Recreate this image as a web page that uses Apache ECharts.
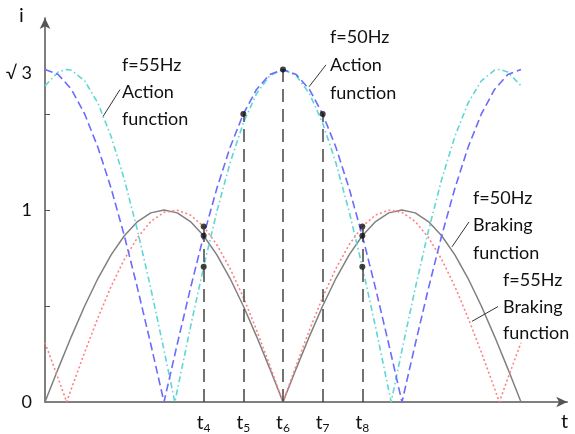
<!DOCTYPE html>
<html>
<head>
<meta charset="utf-8">
<script src="https://cdn.jsdelivr.net/npm/echarts@6/dist/echarts.min.js"></script>
<style>html,body{margin:0;padding:0;background:#fff}#c{width:575px;height:434px}</style>
</head>
<body>
<div id="c"></div>
<script>
// phase axis (degrees of the 50 Hz wave)
const theta50 = [0,10,20,30,40,50,60,70,80,90,100,110,120,130,140,150,160,170,180,190,200,210,220,230,240,250,260,270,280,290,300,310,320,330,340,350,360];
const braking50 = [0,.174,.342,.5,.643,.766,.866,.94,.985,1,.985,.94,.866,.766,.643,.5,.342,.174,0,.174,.342,.5,.643,.766,.866,.94,.985,1,.985,.94,.866,.766,.643,.5,.342,.174,0];
const action50 = [1.732,1.706,1.628,1.5,1.327,1.113,.866,.592,.301,0,.301,.592,.866,1.113,1.327,1.5,1.628,1.706,1.732,1.706,1.628,1.5,1.327,1.113,.866,.592,.301,0,.301,.592,.866,1.113,1.327,1.5,1.628,1.706,1.732];

const theta55b = [0,10,16.4,20,30,40,50,60,70,80,90,100,110,120,130,140,150,160,170,180,190,200,210,220,230,240,250,260,270,280,290,300,310,320,330,340,343.6,350,360];
const braking55 = [.309,.122,0,.070,.259,.438,.602,.743,.857,.94,.988,.999,.974,.914,.819,.695,.545,.375,.191,0,.191,.375,.545,.695,.819,.914,.974,.999,.988,.94,.857,.743,.602,.438,.259,.070,0,.122,.309];

const theta55a = [0,10,16.4,20,30,40,50,60,70,80,90,98.2,100,110,120,130,140,150,160,170,180,190,200,210,220,230,240,250,260,261.8,270,280,290,300,310,320,330,340,343.6,350,360];
const action55 = [1.647,1.719,1.732,1.728,1.673,1.557,1.383,1.159,.892,.592,.271,0,.060,.390,.704,.993,1.246,1.453,1.606,1.700,1.732,1.700,1.606,1.453,1.246,.993,.704,.390,.060,0,.271,.592,.892,1.159,1.383,1.557,1.673,1.728,1.732,1.719,1.647];

// marked instants t4..t8
const tickTimes = [120,150,180,210,240];
const tickNames = ['4','5','6','7','8'];
const markerTops = [0.914,1.5,1.732,1.5,0.914];

// dots
const dotX = [120,120,120,150,180,210,240,240,240];
const dotY = [0.914,0.866,0.704,1.5,1.732,1.5,0.914,0.866,0.704];

// y labels
const yLabelVals = [0,1,1.71];
const yLabelText = ['0','1','√ 3'];

// annotation leader lines [x1,y1,x2,y2] in data units
const leaders = [[56.7,1.627,43.9,1.487],[212.5,1.756,199.7,1.642],[320.7,0.938,307.8,0.808],[342.6,0.497,322.9,0.420]];

const zip = (a,b)=>a.map((v,i)=>[v,b[i]]);
const FONT = 'Lato';

const chart = echarts.init(document.getElementById('c'), null, {renderer:'canvas'});
chart.setOption({
  animation:false,
  grid:{left:45, top:18, bottom:30, width:395*238/180},
  xAxis:{
    type:'value', min:0, max:395,
    splitLine:{show:false},
    axisTick:{show:false},
    axisLine:{lineStyle:{color:'#555',width:1.5}, symbol:['none','arrow'], symbolSize:[8,11]},
    axisLabel:{
      customValues:tickTimes, margin:11,
      formatter:(v)=>'{a|t}{b|'+tickNames[tickTimes.indexOf(v)]+'}',
      rich:{a:{fontFamily:FONT,fontSize:19,color:'#111',verticalAlign:'bottom'},b:{fontFamily:FONT,fontSize:12,color:'#111',verticalAlign:'bottom',padding:[0,0,-2,0]}}
    }
  },
  yAxis:{
    type:'value', min:0, max:2, interval:0.5,
    splitLine:{show:false},
    axisLine:{lineStyle:{color:'#555',width:1.5}, symbol:['none','arrow'], symbolSize:[8,11]},
    axisTick:{inside:true, length:5, customValues:[0.5,1,1.5], lineStyle:{color:'#555'}},
    axisLabel:{customValues:yLabelVals, margin:13, fontFamily:FONT, fontSize:18, color:'#111',
      formatter:(v)=>yLabelText[yLabelVals.indexOf(v)]}
  },
  series:[
    {type:'line', data:zip(theta50,braking50), showSymbol:false, lineStyle:{color:'#808080',width:1.5}},
    {type:'line', data:zip(theta55b,braking55), showSymbol:false, lineStyle:{color:'#ff8080',width:1.6,type:[2,2.5]}},
    {type:'line', data:zip(theta55a,action55), showSymbol:false, lineStyle:{color:'#5ed6d6',width:1.6,type:[6,3,1.5,3]}},
    {type:'line', data:zip(theta50,action50), showSymbol:false, lineStyle:{color:'#6b6bff',width:1.6,type:[8,4]},
      markLine:{silent:true, symbol:'none', label:{show:false},
        lineStyle:{color:'#444',width:1.5,type:[13,7]},
        data: tickTimes.map((t,i)=>[{coord:[t,0]},{coord:[t,markerTops[i]]}])
      }
    },
    {type:'line', data:[], markLine:{silent:true, symbol:'none', label:{show:false},
        lineStyle:{color:'#333',width:1,type:'solid'},
        data: leaders.map(l=>[{coord:[l[0],l[1]]},{coord:[l[2],l[3]]}])}},
    {type:'scatter', data:zip(dotX,dotY), symbol:'circle', symbolSize:6, itemStyle:{color:'#111'}, z:5}
  ],
  graphic:[
    {type:'text', left:19, top:6, style:{text:'i', font:'20px '+FONT, fill:'#111'}},
    {type:'text', left:561, top:412, style:{text:'t', font:'20px '+FONT, fill:'#111'}},
    {type:'text', left:122, top:52, style:{text:'f=55Hz\nAction\nfunction', font:'18px '+FONT, fill:'#111', lineHeight:27}},
    {type:'text', left:330, top:23, style:{text:'f=50Hz\nAction\nfunction', font:'18px '+FONT, fill:'#111', lineHeight:28}},
    {type:'text', left:473, top:184, style:{text:'f=50Hz\nBraking\nfunction', font:'18px '+FONT, fill:'#111', lineHeight:27.5}},
    {type:'text', left:503, top:267, style:{text:'f=55Hz\nBraking\nfunction', font:'18px '+FONT, fill:'#111', lineHeight:26.5}}
  ]
});
</script>
</body>
</html>
